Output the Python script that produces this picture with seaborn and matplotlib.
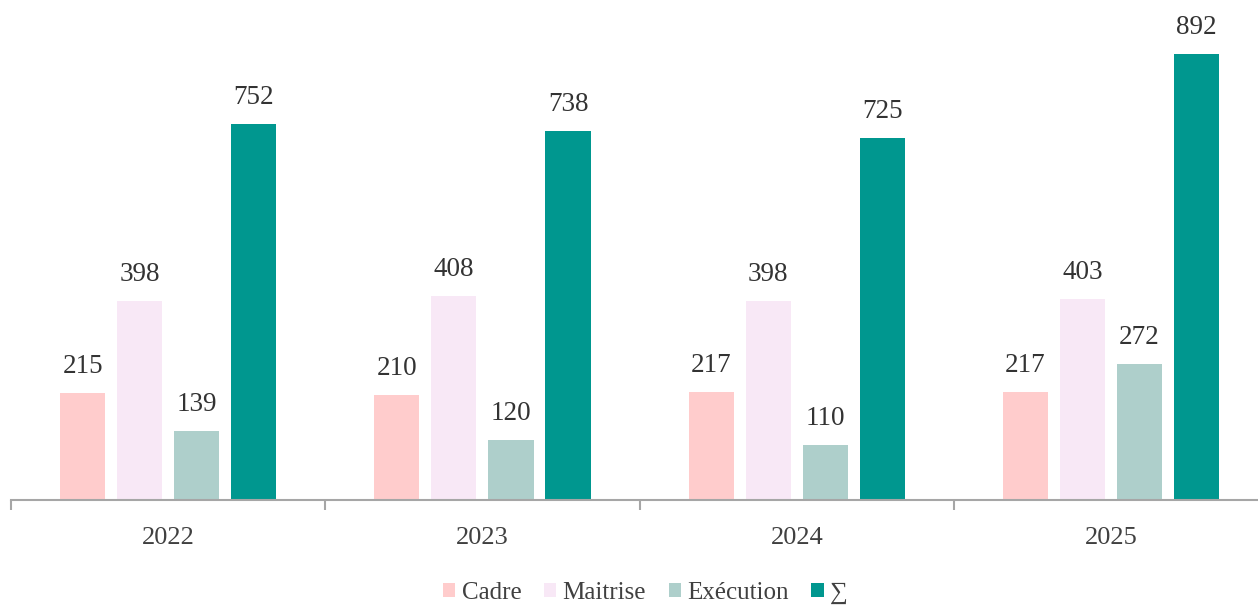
import matplotlib
matplotlib.use("Agg")
import matplotlib.pyplot as plt
import seaborn as sns
import pandas as pd
from matplotlib.patches import Patch

years = ["2022", "2023", "2024", "2025"]
series = ["Cadre", "Maitrise", "Exécution", "∑"]
cadre = [215, 210, 217, 217]
maitrise = [398, 408, 398, 403]
execution = [139, 120, 110, 272]
total = [752, 738, 725, 892]
colors = ["#FFCCCC", "#F8E8F6", "#AECFCB", "#00978F"]

rows = []
for name, vals in zip(series, [cadre, maitrise, execution, total]):
    for y, v in zip(years, vals):
        rows.append({"year": y, "series": name, "value": v})
df = pd.DataFrame(rows)

sns.set_theme(style="white")
plt.rcParams["font.family"] = ["Liberation Serif", "DejaVu Serif"]

fig = plt.figure(figsize=(12.58, 6.06), dpi=100)
ax = fig.add_axes([11 / 1258, 106 / 606, 4 * 314.3 / 1258, 500 / 606])

sns.barplot(data=df, x="year", y="value", hue="series", order=years,
            hue_order=series, palette=colors, width=0.726, gap=0.21,
            saturation=1, ax=ax, legend=False, linewidth=0)

for cont in ax.containers:
    for bar in cont:
        h = bar.get_height()
        ax.annotate(f"{int(round(h))}", (bar.get_x() + bar.get_width() / 2, h),
                    xytext=(0, 10), textcoords="offset points",
                    ha="center", va="bottom", fontsize=19.5, color="#333333")

ax.set_ylim(0, 1000)
ax.set_xlim(-0.5, 3.5)
for s in ["top", "right", "left"]:
    ax.spines[s].set_visible(False)
ax.spines["bottom"].set_color("#A6A6A6")
ax.spines["bottom"].set_linewidth(1.5)
ax.set_yticks([])
ax.set_xlabel("")
ax.set_ylabel("")
ax.set_xticks(range(4))
ax.set_xticklabels(years)
ax.tick_params(axis="x", which="major", bottom=True, length=0, pad=19.5,
               labelsize=19, labelcolor="#404040")
ax.set_xticks([-0.5, 0.5, 1.5, 2.5, 3.5], minor=True)
ax.tick_params(axis="x", which="minor", bottom=True, length=7, width=1.5,
               color="#A6A6A6", direction="out")

handles = [Patch(facecolor=c, edgecolor="none") for c in colors]
fig.legend(handles, series, loc="center", bbox_to_anchor=(0.513, 0.021),
           ncol=4, frameon=False, fontsize=18, handlelength=0.5, handleheight=0.5,
           handletextpad=0.25, columnspacing=0.9, labelcolor="#404040")

fig.savefig("out.png", dpi=100)
